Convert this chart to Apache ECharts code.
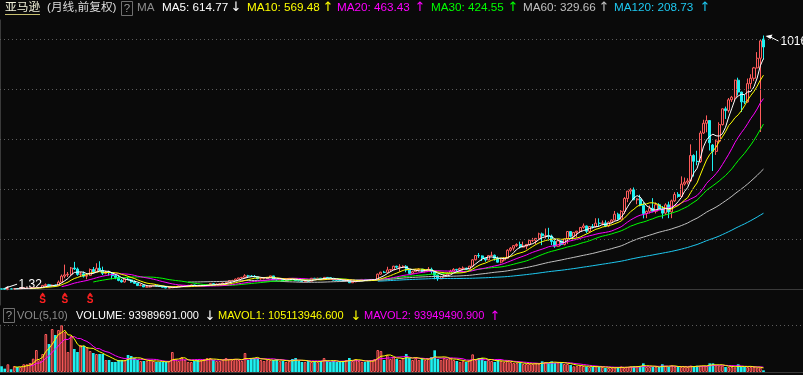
<!DOCTYPE html>
<html><head><meta charset="utf-8">
<script src="https://cdn.jsdelivr.net/npm/echarts@6/dist/echarts.min.js"></script>
<style>html,body{margin:0;padding:0;background:#0a0a0a;}#c{width:803px;height:375px;}</style>
</head><body><div id="c"></div>
<script>
// ---- Monthly candles, 1997-05 .. 2017-06 (forward adjusted) ----
const startYear = 1997, startMonth = 5;
const open = [
 2.44,1.73,1.60,2.47,2.40,3.62,3.56,4.90,
 5.00,5.32,6.30,7.10,7.90,8.15,16.5,19.2,15.0,17.3,16.2,29.5,
 53.5,58.5,61.0,86.0,82.0,60.5,62.6,53.3,56.4,80.0,70.6,85.1,
 76.1,64.6,68.9,67.0,55.2,48.3,36.3,30.1,41.5,38.4,29.9,24.7,
 15.6,17.3,10.2,10.2,15.8,16.7,14.2,12.5,8.9,6.0,6.9,9.5,
 10.8,14.2,14.2,14.3,16.7,18.2,16.3,14.9,15.1,15.9,19.4,23.4,
 18.9,21.9,22.0,26.0,28.7,35.9,36.3,41.6,46.3,48.4,54.4,54.0,
 52.6,50.4,43.0,43.3,43.6,48.5,54.4,38.9,38.1,40.9,34.1,39.7,
 44.3,43.2,35.2,34.3,32.4,35.5,33.1,45.0,42.7,45.3,39.9,48.5,
 47.2,44.8,37.4,36.5,35.2,34.6,38.7,27.0,30.8,32.1,38.1,40.3,
 39.5,37.7,39.1,39.8,61.3,69.1,68.4,78.5,79.9,93.2,89.2,90.6,
 92.6,77.7,64.5,71.3,78.6,81.6,73.3,76.3,80.8,72.8,57.2,42.7,
 51.3,58.8,64.8,73.4,80.5,78.0,83.7,85.8,81.2,93.4,118.8,135.9,
 134.5,125.4,118.4,135.8,137.1,125.5,109.3,117.9,124.8,157.1,165.2,175.4,
 180.0,169.6,173.3,180.1,196.7,196.7,204.5,222.5,215.0,216.2,213.5,192.3,
 173.1,194.4,179.7,202.5,231.9,212.9,228.4,233.3,248.3,254.3,232.9,252.1,
 250.9,265.5,264.3,266.5,253.8,269.2,277.7,301.2,281.0,312.6,364.0,393.6,
 398.8,358.7,362.1,336.4,304.1,312.6,324.8,313.0,339.0,322.4,305.5,338.6,
 310.4,354.5,380.2,372.1,421.8,429.2,434.1,536.2,512.9,511.9,625.9,664.8,
 675.9,578.0,552.5,593.6,659.6,722.8,715.6,758.8,769.2,837.3,789.8,750.6,
 749.9,823.5,845.0,886.5,925.0,1002.0
];
const high = [
 2.50,1.98,2.62,2.70,4.00,4.40,5.10,5.40,
 5.60,6.60,7.50,8.70,8.90,17.0,24.0,22.5,20.0,19.5,36.0,60.0,
 99.6,70.0,90.0,110.6,88.0,70.0,72.0,58.0,84.0,90.0,105.0,113.0,
 91.5,75.0,75.0,70.0,62.0,58.0,42.0,42.0,48.0,42.0,37.0,26.0,
 22.5,18.3,13.4,17.0,17.2,17.0,17.1,13.5,9.9,7.8,11.5,11.7,
 14.8,15.4,16.7,17.1,19.0,19.5,17.0,17.0,16.9,20.9,25.0,25.0,
 24.0,23.6,27.5,29.2,36.5,38.7,43.6,46.5,50.5,61.2,58.5,57.8,
 58.0,51.7,45.0,46.0,49.5,54.7,54.5,40.5,41.5,43.0,42.0,45.5,
 44.9,44.0,36.5,35.3,36.0,36.9,46.0,46.4,46.6,45.9,48.8,50.0,
 48.6,46.5,38.6,38.6,37.0,39.9,39.0,31.4,33.3,38.5,41.6,41.5,
 40.2,42.2,40.9,63.8,71.0,74.7,91.0,81.0,94.9,95.0,101.1,96.4,
 97.4,79.4,75.0,82.7,84.9,82.2,80.0,89.7,87.4,73.5,59.4,54.8,
 61.0,68.7,79.0,85.5,82.5,88.0,92.2,86.5,94.3,122.0,137.0,145.9,
 136.6,126.0,138.1,151.1,139.9,132.0,123.9,129.0,160.7,169.8,177.6,184.8,
 191.6,191.4,182.3,197.8,206.4,206.0,227.2,227.5,244.0,246.7,219.5,199.2,
 199.2,197.2,205.0,234.0,232.7,228.5,234.7,248.8,264.1,256.2,252.9,262.0,
 285.0,284.7,276.0,276.6,272.8,280.6,313.9,307.3,317.5,369.6,394.4,405.6,
 408.1,365.1,379.0,348.8,315.8,336.2,365.4,348.0,345.2,334.0,345.0,351.3,
 359.5,389.4,389.4,452.6,447.8,445.0,580.6,541.0,555.0,635.0,679.0,696.4,
 675.9,581.8,599.7,669.0,724.2,731.5,766.0,774.5,838.9,847.2,791.2,780.0,
 843.8,860.9,890.4,949.6,1001.2,1016.0
];
const low = [
 1.32,1.52,1.56,2.10,2.35,3.10,3.40,4.20,
 4.10,5.10,5.90,6.80,6.90,7.90,15.5,13.5,13.5,11.5,15.5,26.0,
 45.0,50.0,55.0,78.0,55.0,50.0,48.0,41.0,55.0,64.0,69.0,74.0,
 58.0,61.0,56.0,41.0,41.0,33.0,28.0,28.0,38.0,27.0,23.0,14.5,
 13.6,9.9,9.5,8.1,12.3,12.6,11.0,8.5,5.5,5.5,6.6,8.4,
 9.8,12.6,13.1,13.6,15.3,15.1,12.6,13.5,13.6,14.8,19.0,18.5,
 18.3,20.5,21.2,25.5,28.5,33.8,35.2,40.2,42.5,47.6,48.0,50.5,
 49.0,41.1,39.2,40.9,42.0,47.0,38.8,35.9,37.6,33.6,34.0,38.6,
 39.0,34.9,33.7,30.6,31.4,32.5,32.9,40.6,41.0,37.8,39.4,46.2,
 43.7,36.9,35.2,34.0,33.2,33.6,25.8,26.0,29.3,31.0,37.0,38.2,
 36.3,36.9,37.2,39.2,59.0,65.8,67.5,69.5,78.6,84.5,71.0,86.2,
 69.0,61.0,62.6,70.2,72.0,71.5,68.6,75.0,63.0,41.0,34.7,41.3,
 47.5,58.0,61.7,72.4,73.0,76.9,76.6,78.4,78.0,88.3,116.5,126.3,
 114.0,111.2,117.1,133.2,115.5,108.0,104.6,112.3,124.5,151.6,156.0,170.2,
 164.0,167.8,160.6,175.0,190.2,181.6,199.8,177.4,203.5,195.4,178.0,166.9,
 172.0,175.0,176.7,182.8,207.6,208.0,208.2,226.4,243.3,225.1,225.9,243.9,
 248.0,252.9,256.4,249.5,249.6,264.9,277.1,279.9,280.4,302.9,349.1,380.8,
 357.8,340.9,332.7,284.4,285.3,303.7,309.0,304.3,320.4,284.0,297.8,285.2,
 285.3,350.4,367.0,367.3,415.8,420.5,432.0,452.0,497.0,506.5,622.0,628.9,
 556.0,474.0,538.5,589.1,656.0,682.1,708.0,750.0,755.0,775.6,710.1,742.0,
 747.7,803.0,833.5,884.5,630.0,920.0
];
const close = [
 1.73,1.58,2.46,2.39,3.60,3.56,4.85,5.02,
 5.30,6.29,7.06,7.90,8.13,16.5,19.2,15.0,17.3,16.2,29.5,53.5,
 58.5,61.0,86.0,82.0,60.5,62.6,53.3,56.4,80.0,70.6,85.1,76.1,
 64.6,68.9,67.0,55.2,48.3,36.3,30.1,41.5,38.4,29.9,24.7,15.6,
 17.3,10.2,10.2,15.8,16.7,14.2,12.5,8.9,6.0,6.9,9.5,10.8,
 14.2,14.2,14.3,16.7,18.2,16.3,14.9,15.1,15.9,19.4,23.4,18.9,
 21.9,22.0,26.0,28.7,35.9,36.3,41.6,46.3,48.4,54.4,54.0,52.6,
 50.4,43.0,43.3,43.6,48.5,54.4,38.9,38.1,40.9,34.1,39.7,44.3,
 43.2,35.2,34.3,32.4,35.5,33.1,45.0,42.7,45.3,39.9,48.5,47.2,
 44.8,37.4,36.5,35.2,34.6,38.7,27.0,30.8,32.1,38.1,40.3,39.5,
 37.7,39.1,39.8,61.3,69.1,68.4,78.5,79.9,93.2,89.2,90.6,92.6,
 77.7,64.5,71.3,78.6,81.6,73.3,76.3,80.8,72.8,57.2,42.7,51.3,
 58.8,64.8,73.4,80.5,78.0,83.7,85.8,81.2,93.4,118.8,135.9,134.5,
 125.4,118.4,135.8,137.1,125.5,109.3,117.9,124.8,157.1,165.2,175.4,180.0,
 169.6,173.3,180.1,196.7,196.7,204.5,222.5,215.0,216.2,213.5,192.3,173.1,
 194.4,179.7,202.5,231.9,212.9,228.4,233.3,248.3,254.3,232.9,252.1,250.9,
 265.5,264.3,266.5,253.8,269.2,277.7,301.2,281.0,312.6,364.0,393.6,398.8,
 358.7,362.1,336.4,304.1,312.6,324.8,313.0,339.0,322.4,305.5,338.6,310.4,
 354.5,380.2,372.1,421.8,429.2,434.1,536.2,512.9,511.9,625.9,664.8,675.9,
 587.0,552.5,593.6,659.6,722.8,715.6,758.8,769.2,837.3,789.8,750.6,749.9,
 823.5,845.0,886.5,925.0,994.6,970.0
];
// monthly volume, millions of shares
const volume = [
 86,50,116,41,90,75,75,116,116,135,200,330,176,270,570,420,645,555,630,700,600,300,540,345,300,405,390,375,
 315,285,270,270,270,180,180,150,150,180,180,180,255,240,210,180,165,165,165,180,165,150,150,150,150,165,300,195,165,225,
 180,150,150,165,180,180,195,210,210,180,165,165,180,210,195,180,195,180,165,285,180,210,210,210,180,165,180,180,
 180,195,165,165,150,165,195,210,165,150,
 150,165,150,165,150,165,210,165,150,165,
 150,150,165,180,210,165,195,165,150,150,
 165,180,195,330,315,180,255,195,225,195,
 180,210,270,210,180,210,180,210,180,195,
 225,325,195,180,210,195,210,180,165,150,
 165,150,180,265,180,210,210,165,180,165,
 150,180,165,150,165,150,135,135,135,120,
 120,120,120,135,120,
 160,150,135,160,135,143,143,120,120,105,
 86,90,90,90,83,75,75,86,75,75,
 60,60,60,68,75,83,60,75,86,86,
 90,90,130,75,75,75,75,75,116,90,
 75,100,75,75,75,75,75,95,86,95,
 95,95,90,130,130,94,95,95,75,75,
 75,68,116,83,75,75,75,75,65,65,25
];
const splitMonths = ['1998-06','1999-01','1999-09'];
const priceGridLines = [200,400,600,800,1000];
const maPeriods = [5,10,20,30,60,120];
const maColors = ['#ffffff','#ffff00','#ff00ff','#00ff00','#c0c0c0','#1ec8f0'];
const maLegendValues = ['614.77','569.48','463.43','424.55','329.66','208.73'];
const maLegendArrows = ['↓','↑','↑','↑','↑','↑'];
const volLegend = {volume:'93989691.000', mavol1:'105113946.600', mavol2:'93949490.900'};

const months = [];
for (let i = 0, y = startYear, m = startMonth; i < close.length; i++) {
  months.push(y + '-' + String(m).padStart(2, '0'));
  m++; if (m > 12) { m = 1; y++; }
}
const padCats = 12;
const cats = months.concat(new Array(padCats).fill(''));

function sma(arr, n) {
  return arr.map((v, i) => {
    if (i < n - 1) return '-';
    let s = 0; for (let k = i - n + 1; k <= i; k++) s += arr[k];
    return +(s / n).toFixed(3);
  });
}

const UP = '#ff5b5b', DOWN = '#1ef0f0', BG = '#0a0a0a';
const candleData = months.map((m, i) => [open[i], close[i], low[i], high[i]]);
const volData = volume.map((v, i) => ({
  value: v,
  itemStyle: close[i] >= open[i] ? {color: '#3a1010', borderColor: UP, borderWidth: 1} : {color: DOWN}
}));

const chart = echarts.init(document.getElementById('c'));
const axisCommon = {
  type: 'category', data: cats, boundaryGap: true,
  axisTick: {show: false}, axisLabel: {show: false}, splitLine: {show: false},
  axisLine: {show: true, lineStyle: {color: '#3a3a3a'}}
};
const series = [{
  type: 'candlestick', data: candleData, xAxisIndex: 0, yAxisIndex: 0, barWidth: '80%', z: 2,
  itemStyle: {color: BG, color0: DOWN, borderColor: UP, borderColor0: DOWN, borderWidth: 1},
  markLine: {silent: true, symbol: 'none', label: {show: false}, animation: false,
    lineStyle: {color: '#5c5c5c', type: [1, 3], width: 1},
    data: priceGridLines.map(v => ({yAxis: v}))}
}];
maPeriods.slice().reverse().forEach((p, k) => {
  const idx = maPeriods.length - 1 - k;
  series.push({type: 'line', data: sma(close, p), xAxisIndex: 0, yAxisIndex: 0, showSymbol: false, z: 3,
    lineStyle: {color: maColors[idx], width: 1}, itemStyle: {color: maColors[idx]}});
});
series.push({type: 'bar', data: volData, xAxisIndex: 1, yAxisIndex: 1, barWidth: '84%', z: 2,
  markLine: {silent: true, symbol: 'none', label: {show: false}, animation: false,
    lineStyle: {color: '#5c5c5c', type: [1, 3], width: 1}, data: [{yAxis: 705}]}});
series.push({type: 'line', data: sma(volume, 10), xAxisIndex: 1, yAxisIndex: 1, showSymbol: false, z: 3,
  lineStyle: {color: '#ff00ff', width: 1}});
series.push({type: 'line', data: sma(volume, 5), xAxisIndex: 1, yAxisIndex: 1, showSymbol: false, z: 3,
  lineStyle: {color: '#ffff00', width: 1}});

chart.setOption({
  backgroundColor: BG, animation: false,
  grid: [{left: 0, right: 0, top: 20, height: 285}, {left: 0, right: 0, top: 325, height: 47}],
  xAxis: [Object.assign({gridIndex: 0}, axisCommon), Object.assign({gridIndex: 1}, axisCommon)],
  yAxis: [
    {gridIndex: 0, type: 'value', min: -62, max: 1078, axisLabel: {show: false}, axisTick: {show: false},
     splitLine: {show: false}, axisLine: {show: true, lineStyle: {color: '#3a3a3a'}}},
    {gridIndex: 1, type: 'value', min: 0, max: 705, axisLabel: {show: false}, axisTick: {show: false},
     splitLine: {show: false}, axisLine: {show: true, lineStyle: {color: '#3a3a3a'}}}
  ],
  series: series
});

// ---- overlays: headers, extreme labels, split markers ----
const FONT = '"Liberation Sans", Arial, "Noto Sans CJK SC", sans-serif';
const AFONT = '"DejaVu Sans", sans-serif';
const g = [];
function txt(x, y, s, color, size, extra) {
  g.push(Object.assign({type: 'text', x: x, y: y, silent: true,
    style: Object.assign({text: s, fill: color, font: size + 'px ' + FONT, textVerticalAlign: 'middle'}, extra || {})}));
}
function arrow(x, y, s, color) {
  txt(x, y, s, color, 12, {font: '13px ' + AFONT, textAlign: 'center'});
}
// top header
txt(5, 7.5, '亚马逊', '#f2f2da', 11.7);
g.push({type: 'line', shape: {x1: 5, y1: 14.5, x2: 40, y2: 14.5}, style: {stroke: '#c8c070', lineWidth: 1}, silent: true});
txt(47, 7.5, '(月线,前复权)', '#dcdcdc', 11.7);
g.push({type: 'rect', shape: {x: 121.5, y: 1.5, width: 11, height: 14}, style: {fill: 'none', stroke: '#707070', lineWidth: 1}, silent: true});
txt(127, 8.5, '?', '#9a9a9a', 11.5, {textAlign: 'center'});
txt(137, 7.5, 'MA', '#8c8c8c', 11.7);
const maX = [162, 247, 337, 431, 523, 614];
const arrX = [236, 328, 420, 513, 604, 705];
maPeriods.forEach((p, i) => {
  txt(maX[i], 7.5, 'MA' + p + ': ' + maLegendValues[i], maColors[i], 11.7);
  arrow(arrX[i], 8, maLegendArrows[i], maColors[i]);
});
// volume header
g.push({type: 'rect', shape: {x: 3.5, y: 308.5, width: 11, height: 14}, style: {fill: 'none', stroke: '#707070', lineWidth: 1}, silent: true});
txt(9, 315.5, '?', '#9a9a9a', 11.5, {textAlign: 'center'});
txt(17, 316, 'VOL(5,10)', '#8c8c8c', 11);
txt(76, 316, 'VOLUME: ' + volLegend.volume, '#ffffff', 11);
arrow(210, 316.5, '↓', '#ffffff');
txt(218, 316, 'MAVOL1: ' + volLegend.mavol1, '#ffff00', 11);
arrow(356, 316.5, '↓', '#ffff00');
txt(364, 316, 'MAVOL2: ' + volLegend.mavol2, '#ff00ff', 11);
arrow(495, 316.5, '↑', '#ff00ff');

// highest / lowest annotations
const hiVal = Math.max.apply(null, high), hiIdx = high.indexOf(hiVal);
const loVal = Math.min.apply(null, low), loIdx = low.indexOf(loVal);
const hp = chart.convertToPixel({xAxisIndex: 0, yAxisIndex: 0}, [hiIdx, hiVal]);
const lp = chart.convertToPixel({xAxisIndex: 0, yAxisIndex: 0}, [loIdx, loVal]);
g.push({type: 'rect', shape: {x: hp[0] + 2, y: hp[1] - 3, width: 803 - hp[0], height: 14}, style: {fill: BG}, silent: true});
g.push({type: 'polygon', shape: {points: [[hp[0] + 2, hp[1] + 0.5], [hp[0] + 9, hp[1] - 1], [hp[0] + 7, hp[1] + 3.5]]}, style: {fill: '#ffffff'}, silent: true});
g.push({type: 'line', shape: {x1: hp[0] + 7, y1: hp[1] + 1.5, x2: hp[0] + 15, y2: hp[1] + 5.5}, style: {stroke: '#ffffff', lineWidth: 1}, silent: true});
txt(hp[0] + 17, hp[1] + 5.8, String(Math.round(hiVal)), '#ffffff', 12);
g.push({type: 'polygon', shape: {points: [[lp[0] + 0.5, lp[1]], [lp[0] + 7, lp[1] - 3.5], [lp[0] + 6, lp[1] + 1]]}, style: {fill: '#ffffff'}, silent: true});
g.push({type: 'line', shape: {x1: lp[0] + 5, y1: lp[1] - 1.5, x2: lp[0] + 15.5, y2: lp[1] - 5}, style: {stroke: '#ffffff', lineWidth: 1}, silent: true});
txt(lp[0] + 17, lp[1] - 4.8, loVal.toFixed(2), '#ffffff', 12);

// split markers
splitMonths.forEach(m => {
  const i = months.indexOf(m);
  const px = chart.convertToPixel({xAxisIndex: 0, yAxisIndex: 0}, [i, 0])[0];
  g.push({type: 'polygon', shape: {points: [[px, 292.5], [px - 2.5, 295.5], [px + 2.5, 295.5]]}, style: {fill: '#ff2020'}, silent: true});
  txt(px, 300.5, 'S', '#ff2020', 10, {textAlign: 'center', font: 'bold 10px ' + FONT});
});
chart.setOption({graphic: {elements: g}});
</script>
</body></html>
